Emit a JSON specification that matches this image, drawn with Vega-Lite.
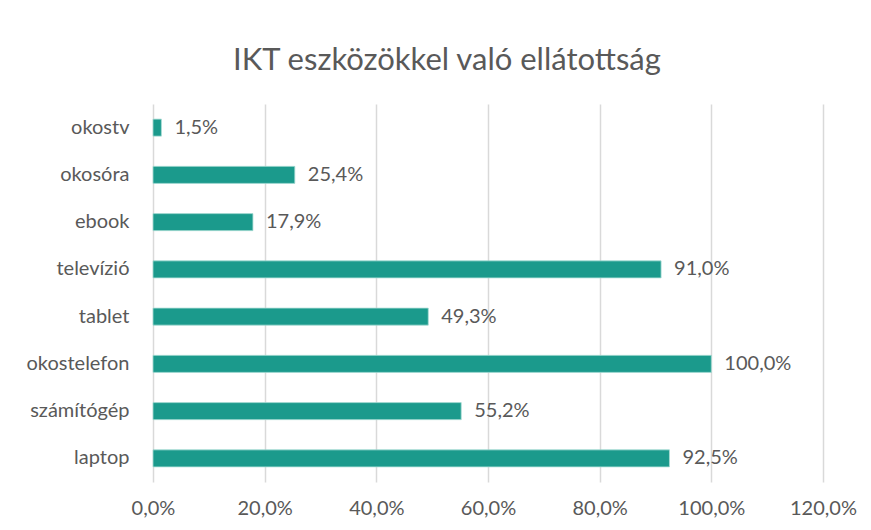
{
  "$schema": "https://vega.github.io/schema/vega-lite/v6.json",
  "autosize": {"type": "none"},
  "width": 670,
  "height": 378,
  "padding": {"left": 153, "top": 104, "right": 48, "bottom": 48},
  "background": "white",
  "title": {
    "text": "IKT eszközökkel  való ellátottság",
    "fontSize": 31,
    "font": "Lato",
    "fontWeight": "normal",
    "color": "#595959",
    "anchor": "middle",
    "dx": -41,
    "offset": 27
  },
  "data": {
    "values": [
      {"eszkoz": "okostv", "ertek": 0.015},
      {"eszkoz": "okosóra", "ertek": 0.254},
      {"eszkoz": "ebook", "ertek": 0.179},
      {"eszkoz": "televízió", "ertek": 0.910},
      {"eszkoz": "tablet", "ertek": 0.493},
      {"eszkoz": "okostelefon", "ertek": 1.000},
      {"eszkoz": "számítógép", "ertek": 0.552},
      {"eszkoz": "laptop", "ertek": 0.925}
    ]
  },
  "encoding": {
    "y": {
      "field": "eszkoz",
      "type": "nominal",
      "sort": null,
      "title": null,
      "scale": {"paddingInner": 0.64, "paddingOuter": 0.32},
      "axis": {
        "domain": false,
        "ticks": false,
        "labelPadding": 24,
        "labelFontSize": 20,
        "labelFont": "Lato",
        "labelColor": "#595959",
        "grid": false
      }
    },
    "x": {
      "field": "ertek",
      "type": "quantitative",
      "title": null,
      "scale": {"domain": [0, 1.2], "nice": false},
      "axis": {
        "values": [0, 0.2, 0.4, 0.6, 0.8, 1.0, 1.2],
        "format": ".1%",
        "domain": false,
        "ticks": false,
        "grid": true,
        "gridColor": "#d9d9d9",
        "gridWidth": 1.5,
        "labelFlush": false,
        "labelOverlap": false,
        "labelPadding": 16,
        "labelFontSize": 20,
        "labelFont": "Lato",
        "labelColor": "#595959"
      }
    }
  },
  "layer": [
    {"mark": {"type": "bar", "color": "#1b9a8c", "stroke": "#a8dcd4", "strokeWidth": 0.8}},
    {
      "mark": {"type": "text", "align": "left", "baseline": "middle", "dx": 13, "fontSize": 20, "font": "Lato", "color": "#595959"},
      "encoding": {"text": {"field": "ertek", "type": "quantitative", "format": ".1%"}}
    }
  ],
  "config": {
    "view": {"stroke": null},
    "locale": {
      "number": {"decimal": ",", "thousands": " ", "grouping": [3], "currency": ["", " Ft"]}
    }
  }
}
